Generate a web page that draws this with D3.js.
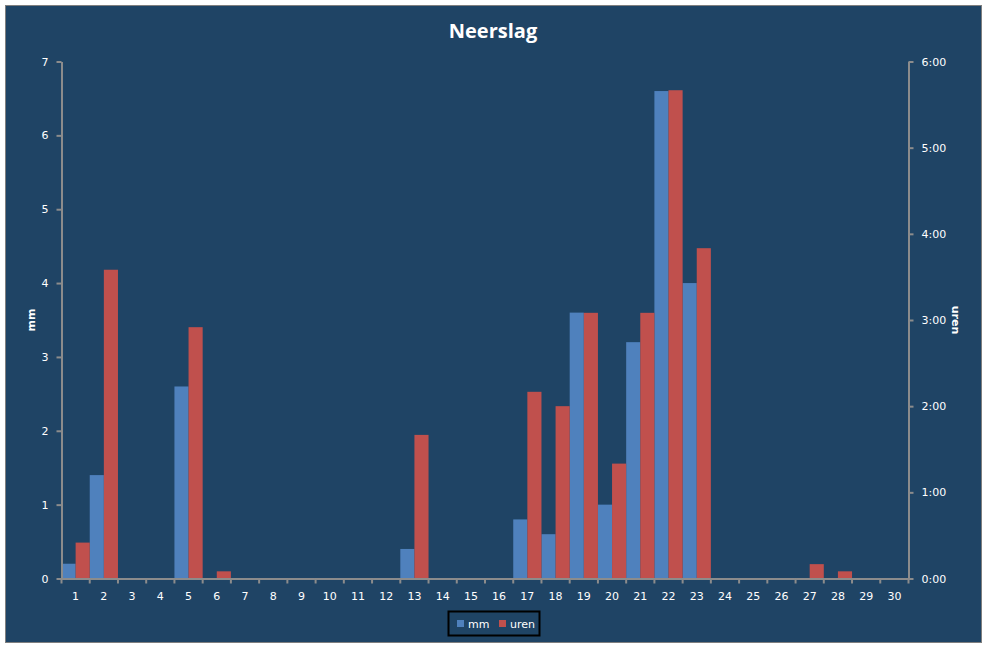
<!DOCTYPE html>
<html><head><meta charset="utf-8">
<script src="https://cdn.jsdelivr.net/npm/d3@7"></script>
<style>
html,body{margin:0;padding:0;background:#fff;}
svg text{font-family:"DejaVu Sans",Verdana,sans-serif;}
</style></head>
<body><svg id="c" width="987" height="648"></svg>
<script>
const days = d3.range(1, 31).map(String);
const mm = [0.2,1.4,0,0,2.6,0,0,0,0,0,0,0,0.4,0,0,0,0.8,0.6,3.6,1.0,3.2,6.6,4.0,0,0,0,0,0,0,0];
// uren in minutes
const urenMin = [25,215,0,0,175,5,0,0,0,0,0,0,100,0,0,0,130,120,185,80,185,340,230,0,0,0,10,5,0,0];
const mmTicks = [0,1,2,3,4,5,6,7];
const urenTicks = [0,60,120,180,240,300,360];
const seriesNames = ["mm","uren"];
const colors = ["#4F81BD","#C0504D"];

const svg = d3.select("#c");
svg.append("rect").attr("x",5.5).attr("y",5.5).attr("width",976).attr("height",637)
  .attr("fill","#1F4465").attr("stroke","#7F7F7F").attr("stroke-width",1);

const L=61.5, R=908.5, T=61.5, B=578.5;
const x = d3.scaleBand().domain(days).range([L,R]).padding(0);
const x1 = d3.scaleBand().domain(seriesNames).range([0,x.bandwidth()]).padding(0);
const yL = d3.scaleLinear().domain([0,7]).range([B,T]);
const yR = d3.scaleLinear().domain([0,360]).range([B,T]);

svg.append("text").attr("x",493).attr("y",38).attr("text-anchor","middle")
  .attr("fill","#fff").style("font-family","'Open Sans',sans-serif").style("font-weight","bold").style("font-size","20px").text("Neerslag");

const g = svg.append("g");
g.selectAll("rect.mm").data(mm).join("rect").attr("class","mm")
  .attr("x",(d,i)=>x(days[i])+x1("mm")).attr("width",x1.bandwidth())
  .attr("y",d=>yL(d)).attr("height",d=>B-yL(d)).attr("fill",colors[0]);
g.selectAll("rect.uren").data(urenMin).join("rect").attr("class","uren")
  .attr("x",(d,i)=>x(days[i])+x1("uren")).attr("width",x1.bandwidth())
  .attr("y",d=>yR(d)).attr("height",d=>B-yR(d)).attr("fill",colors[1]);

const axisCol="#8C8C8C";
function style(sel){
  sel.select(".domain").attr("stroke",axisCol).attr("stroke-width",2);
  sel.selectAll(".tick line").attr("stroke",axisCol).attr("stroke-width",2);
  sel.selectAll(".tick text").attr("fill","#fff").style("font-size","11px").style("font-family","'DejaVu Sans',Verdana,sans-serif");
}
const ax = svg.append("g").attr("transform",`translate(0,${B})`)
  .call(d3.axisBottom(x).tickSize(0).tickPadding(14).tickSizeOuter(0));
style(ax);
ax.selectAll("line.b").data(d3.range(0,31)).join("line").attr("class","b")
  .attr("x1",i=>L+i*x.step()).attr("x2",i=>L+i*x.step()).attr("y1",0).attr("y2",5)
  .attr("stroke",axisCol).attr("stroke-width",2);

const ayl = svg.append("g").attr("transform",`translate(${L},0)`)
  .call(d3.axisLeft(yL).tickValues(mmTicks).tickFormat(d3.format("d")).tickSize(5).tickPadding(8).tickSizeOuter(0));
style(ayl);
const fmt = m => Math.floor(m/60)+":"+String(m%60).padStart(2,"0");
const ayr = svg.append("g").attr("transform",`translate(${R},0)`)
  .call(d3.axisRight(yR).tickValues(urenTicks).tickFormat(fmt).tickSize(5).tickPadding(8).tickSizeOuter(0));
style(ayr);

svg.append("text").attr("transform","translate(35,320) rotate(-90)").attr("text-anchor","middle")
  .attr("fill","#fff").style("font-size","11px").style("font-weight","bold").text("mm");
svg.append("text").attr("transform","translate(952,320) rotate(90)").attr("text-anchor","middle")
  .attr("fill","#fff").style("font-size","11px").style("font-weight","bold").text("uren");

const lg = svg.append("g");
lg.append("rect").attr("x",448.5).attr("y",611.5).attr("width",91).attr("height",24)
  .attr("fill","none").attr("stroke","#000").attr("stroke-width",2);
const lx=[457,499];
seriesNames.forEach((n,i)=>{
  lg.append("rect").attr("x",lx[i]).attr("y",620).attr("width",7).attr("height",7).attr("fill",colors[i]);
  lg.append("text").attr("x",lx[i]+11).attr("y",627.5).attr("fill","#fff").style("font-size","11px").text(n);
});
</script></body></html>
